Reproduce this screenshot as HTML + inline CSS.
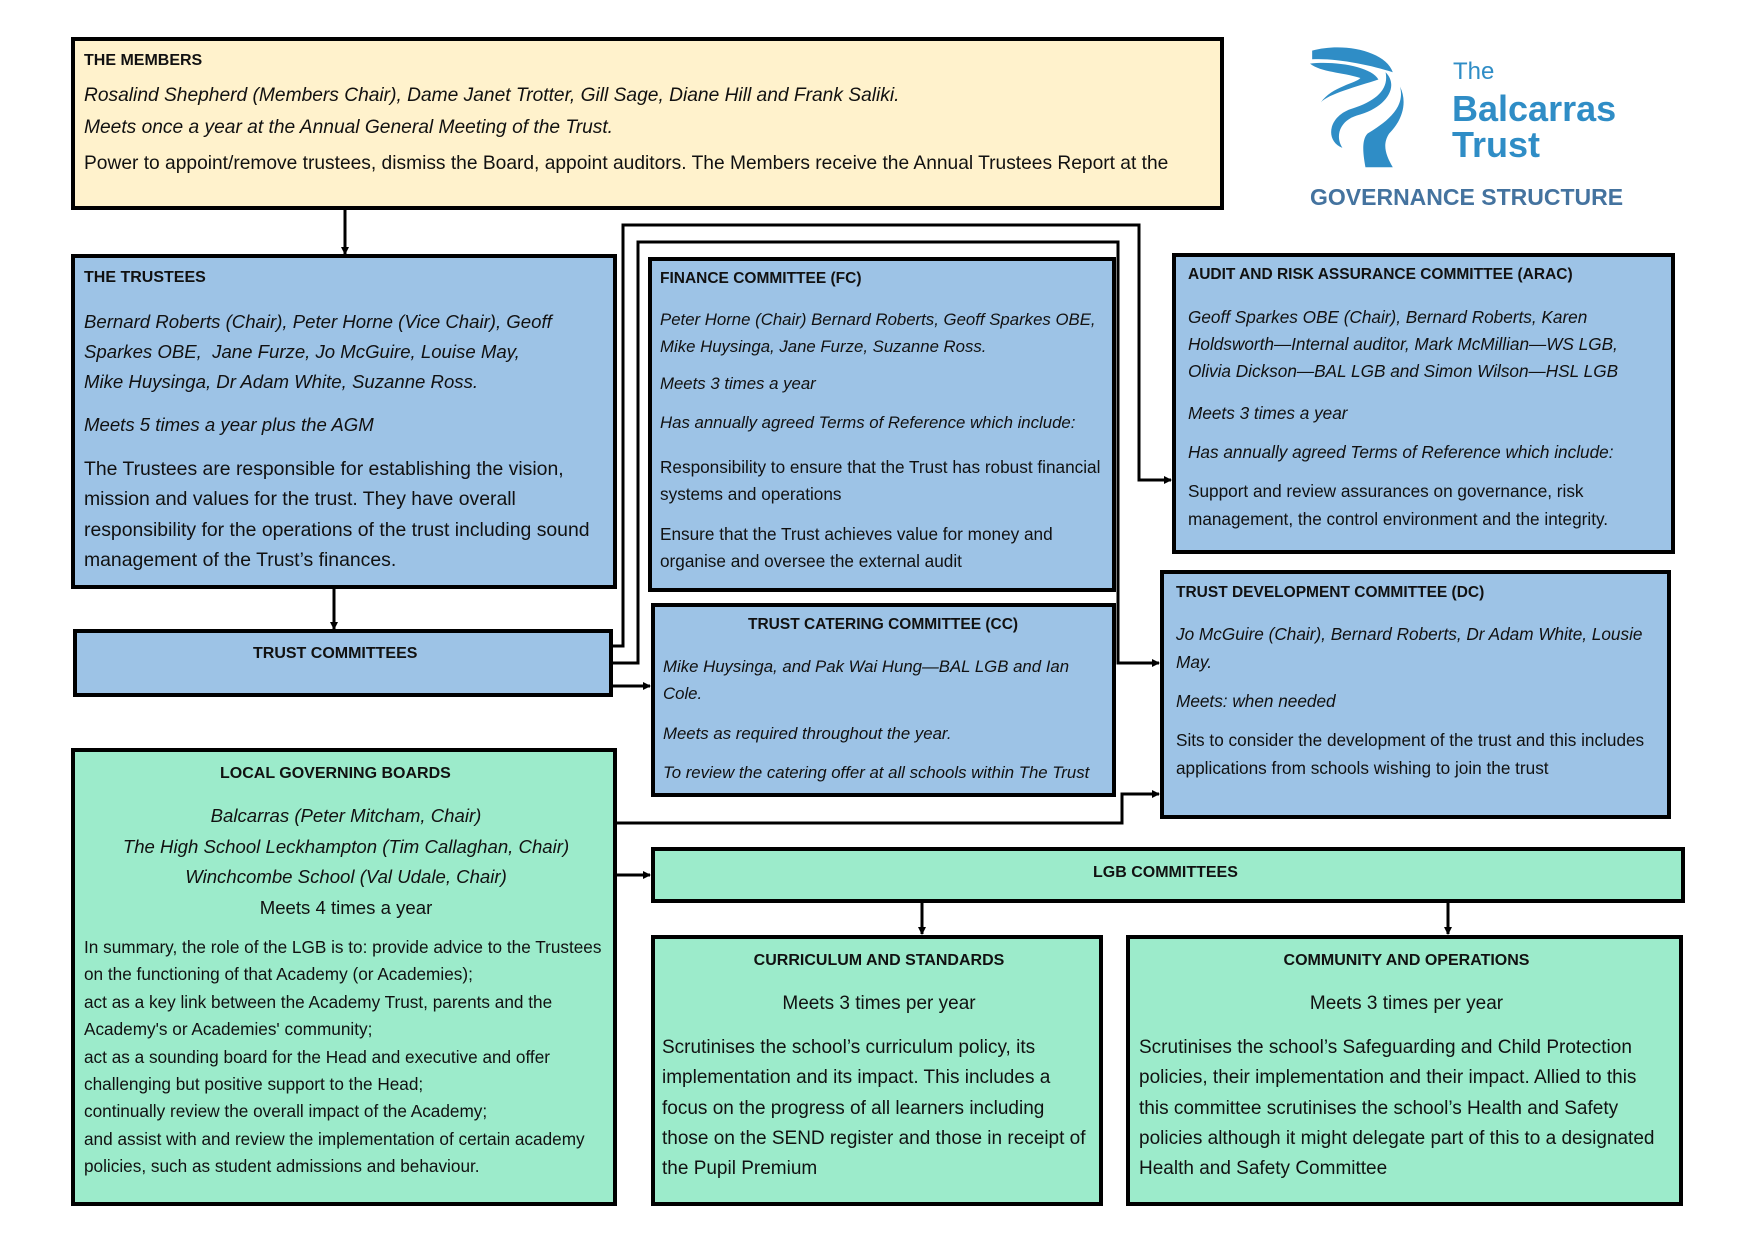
<!DOCTYPE html>
<html><head><meta charset="utf-8"><style>
body{margin:0;width:1754px;height:1240px;background:#fff;position:relative;overflow:hidden;font-family:"Liberation Sans",Arial,sans-serif;color:#111}
.b{position:absolute;border:4px solid #000;box-sizing:border-box}
.y{background:#fff2cc}.bl{background:#9dc3e6}.g{background:#9cebcb}
.t{position:absolute;white-space:nowrap}
.h{font-weight:bold;font-size:16px}
.i{font-style:italic}
svg{position:absolute;left:0;top:0}
</style></head><body>

<div class="b y" style="left:71px;top:37px;width:1153px;height:173px"></div>
<div class="b bl" style="left:71px;top:254px;width:546px;height:335px"></div>
<div class="b bl" style="left:73px;top:629px;width:540px;height:68px"></div>
<div class="b g" style="left:71px;top:748px;width:546px;height:458px"></div>
<div class="b bl" style="left:648px;top:257px;width:468px;height:335px"></div>
<div class="b bl" style="left:651px;top:603px;width:465px;height:194px"></div>
<div class="b bl" style="left:1172px;top:253px;width:503px;height:301px"></div>
<div class="b bl" style="left:1160px;top:570px;width:511px;height:249px"></div>
<div class="b g" style="left:651px;top:847px;width:1034px;height:56px"></div>
<div class="b g" style="left:651px;top:935px;width:452px;height:271px"></div>
<div class="b g" style="left:1126px;top:935px;width:557px;height:271px"></div>

<svg width="1754" height="1240">
<defs><marker id="a" markerWidth="8" markerHeight="8" refX="7" refY="4" orient="auto" markerUnits="userSpaceOnUse"><path d="M0,0 L8,4 L0,8z" fill="#000"/></marker></defs>
<g stroke="#000" stroke-width="3" fill="none">
<path d="M345,210 V254" marker-end="url(#a)"/>
<path d="M334,589 V629" marker-end="url(#a)"/>
<path d="M613,646 H623 V225 H1139 V480 H1171" marker-end="url(#a)"/>
<path d="M613,663 H638 V242 H1118 V663 H1159" marker-end="url(#a)"/>
<path d="M613,686 H650" marker-end="url(#a)"/>
<path d="M617,823 H1122 V794 H1159" marker-end="url(#a)"/>
<path d="M617,875 H650" marker-end="url(#a)"/>
<path d="M922,903 V934" marker-end="url(#a)"/>
<path d="M1448,903 V934" marker-end="url(#a)"/>
</g>
<g fill="#2f8dc6" transform="translate(1310,42) scale(0.72) translate(-1315,-38)">
<path d="M1318,50 C1360,38 1420,50 1430,80 C1400,70 1350,60 1318,62 Z"/>
<path d="M1315,68 C1350,64 1400,72 1410,90 C1380,100 1340,110 1330,122 C1345,100 1380,95 1385,88 C1360,80 1330,80 1315,68Z"/>
<path d="M1420,80 C1440,100 1420,130 1380,140 C1355,148 1350,170 1360,185 C1335,175 1340,140 1375,130 C1405,120 1425,105 1420,80Z"/>
<path d="M1440,100 C1448,130 1420,150 1395,165 C1385,175 1390,200 1392,212 L1430,212 C1420,195 1415,180 1425,165 C1445,145 1450,120 1440,100Z"/>
</g>
</svg>

<div class="t h" style="left:1453px;top:58px;font-size:24px;font-weight:normal;color:#2f8dc6">The</div>
<div class="t h" style="left:1452px;top:88px;font-size:36px;color:#2f8dc6">Balcarras</div>
<div class="t h" style="left:1452px;top:124px;font-size:36px;color:#2f8dc6">Trust</div>
<div class="t h" style="left:1310px;top:184px;font-size:23px;color:#44739f">GOVERNANCE STRUCTURE</div>

<!-- Members -->
<div class="t h" style="left:84px;top:52px">THE MEMBERS</div>
<div class="t i" style="left:84px;top:80px;font-size:19.2px;line-height:32px">Rosalind Shepherd (Members Chair), Dame Janet Trotter, Gill Sage, Diane Hill and Frank Saliki.<br>Meets once a year at the Annual General Meeting of the Trust.</div>
<div class="t" style="left:84px;top:153px;font-size:19.2px">Power to appoint/remove trustees, dismiss the Board, appoint auditors. The Members receive the Annual Trustees Report at the</div>

<!-- Trustees -->
<div class="t h" style="left:84px;top:269px">THE TRUSTEES</div>
<div class="t i" style="left:84px;top:307px;font-size:18.6px;line-height:30px">Bernard Roberts (Chair), Peter Horne (Vice Chair), Geoff<br>Sparkes OBE,&nbsp; Jane Furze, Jo McGuire, Louise May,<br>Mike Huysinga, Dr Adam White, Suzanne Ross.</div>
<div class="t i" style="left:84px;top:410px;font-size:18.6px;line-height:30px">Meets 5 times a year plus the AGM</div>
<div class="t" style="left:84px;top:454px;font-size:19.4px;line-height:30.3px">The Trustees are responsible for establishing the vision,<br>mission and values for the trust. They have overall<br>responsibility for the operations of the trust including sound<br>management of the Trust’s finances.</div>

<div class="t h" style="left:253px;top:645px">TRUST COMMITTEES</div>

<!-- FC -->
<div class="t h" style="left:660px;top:270px;font-size:15.5px">FINANCE COMMITTEE (FC)</div>
<div class="t i" style="left:660px;top:306px;font-size:16.8px;line-height:27px">Peter Horne (Chair) Bernard Roberts, Geoff Sparkes OBE,<br>Mike Huysinga, Jane Furze, Suzanne Ross.</div>
<div class="t i" style="left:660px;top:374px;font-size:16.8px">Meets 3 times a year</div>
<div class="t i" style="left:660px;top:413px;font-size:16.8px">Has annually agreed Terms of Reference which include:</div>
<div class="t" style="left:660px;top:454px;font-size:17.2px;line-height:27px">Responsibility to ensure that the Trust has robust financial<br>systems and operations</div>
<div class="t" style="left:660px;top:521px;font-size:17.2px;line-height:27px">Ensure that the Trust achieves value for money and<br>organise and oversee the external audit</div>

<!-- CC -->
<div class="t h" style="left:748px;top:616px;font-size:15.5px">TRUST CATERING COMMITTEE (CC)</div>
<div class="t i" style="left:663px;top:653px;font-size:16.8px;line-height:27px">Mike Huysinga, and Pak Wai Hung—BAL LGB and Ian<br>Cole.</div>
<div class="t i" style="left:663px;top:724px;font-size:16.8px">Meets as required throughout the year.</div>
<div class="t i" style="left:663px;top:763px;font-size:16.8px">To review the catering offer at all schools within The Trust</div>

<!-- ARAC -->
<div class="t h" style="left:1188px;top:266px;font-size:15.5px">AUDIT AND RISK ASSURANCE COMMITTEE (ARAC)</div>
<div class="t i" style="left:1188px;top:304px;font-size:17.2px;line-height:27px">Geoff Sparkes OBE (Chair), Bernard Roberts, Karen<br>Holdsworth—Internal auditor, Mark McMillian—WS LGB,<br>Olivia Dickson—BAL LGB and Simon Wilson—HSL LGB</div>
<div class="t i" style="left:1188px;top:403px;font-size:17.2px">Meets 3 times a year</div>
<div class="t i" style="left:1188px;top:442px;font-size:17.2px">Has annually agreed Terms of Reference which include:</div>
<div class="t" style="left:1188px;top:477px;font-size:17.2px;line-height:28px">Support and review assurances on governance, risk<br>management, the control environment and the integrity.</div>

<!-- DC -->
<div class="t h" style="left:1176px;top:584px;font-size:15.5px">TRUST DEVELOPMENT COMMITTEE (DC)</div>
<div class="t i" style="left:1176px;top:620px;font-size:17.2px;line-height:28px">Jo McGuire (Chair), Bernard Roberts, Dr Adam White, Lousie<br>May.</div>
<div class="t i" style="left:1176px;top:691px;font-size:17.2px">Meets: when needed</div>
<div class="t" style="left:1176px;top:726px;font-size:17.2px;line-height:28px">Sits to consider the development of the trust and this includes<br>applications from schools wishing to join the trust</div>

<!-- LGB -->
<div class="t h" style="left:220px;top:765px">LOCAL GOVERNING BOARDS</div>
<div class="t i" style="left:73px;width:546px;text-align:center;top:801px;font-size:18.6px;line-height:30.5px">Balcarras (Peter Mitcham, Chair)<br>The High School Leckhampton (Tim Callaghan, Chair)<br>Winchcombe School (Val Udale, Chair)</div>
<div class="t" style="left:73px;width:546px;text-align:center;top:897px;font-size:18.6px">Meets 4 times a year</div>
<div class="t" style="left:84px;top:934px;font-size:17.2px;line-height:27.4px">In summary, the role of the LGB is to: provide advice to the Trustees<br>on the functioning of that Academy (or Academies);<br>act as a key link between the Academy Trust, parents and the<br>Academy's or Academies' community;<br>act as a sounding board for the Head and executive and offer<br>challenging but positive support to the Head;<br>continually review the overall impact of the Academy;<br>and assist with and review the implementation of certain academy<br>policies, such as student admissions and behaviour.</div>

<div class="t h" style="left:1093px;top:864px">LGB COMMITTEES</div>

<div class="t h" style="left:653px;width:452px;text-align:center;top:952px">CURRICULUM AND STANDARDS</div>
<div class="t" style="left:653px;width:452px;text-align:center;top:993px;font-size:19px">Meets 3 times per year</div>
<div class="t" style="left:662px;top:1033px;font-size:19px;line-height:30.3px">Scrutinises the school’s curriculum policy, its<br>implementation and its impact. This includes a<br>focus on the progress of all learners including<br>those on the SEND register and those in receipt of<br>the Pupil Premium</div>

<div class="t h" style="left:1128px;width:557px;text-align:center;top:952px">COMMUNITY AND OPERATIONS</div>
<div class="t" style="left:1128px;width:557px;text-align:center;top:993px;font-size:19px">Meets 3 times per year</div>
<div class="t" style="left:1139px;top:1033px;font-size:19px;line-height:30.3px">Scrutinises the school’s Safeguarding and Child Protection<br>policies, their implementation and their impact. Allied to this<br>this committee scrutinises the school’s Health and Safety<br>policies although it might delegate part of this to a designated<br>Health and Safety Committee</div>

</body></html>
